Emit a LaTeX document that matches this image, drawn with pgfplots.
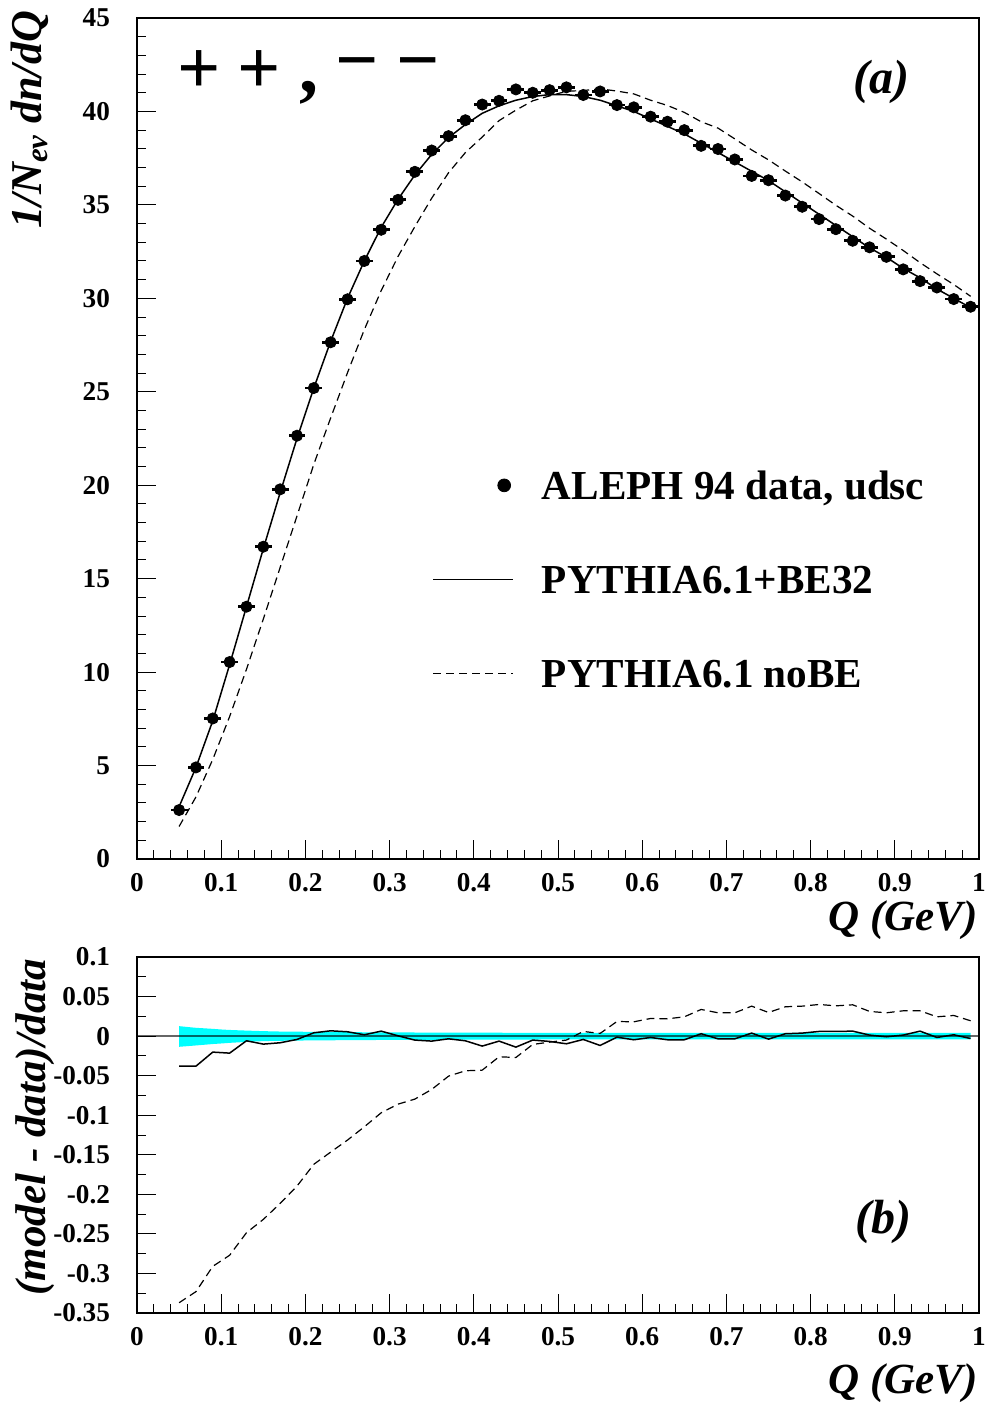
\documentclass[border=0pt]{standalone}
\usepackage{fontspec}
\setmainfont{Liberation Serif}
\usepackage{pgfplots}
\pgfplotsset{compat=1.18}
\usepackage{pgfplotstable}
\definecolor{bandcyan}{RGB}{0,255,255}

\pgfplotstableread{
q y
0.05 2.62
0.07 4.90
0.09 7.52
0.11 10.54
0.13 13.50
0.15 16.71
0.17 19.78
0.19 22.65
0.21 25.20
0.23 27.65
0.25 29.95
0.27 32.00
0.29 33.67
0.31 35.27
0.33 36.77
0.35 37.91
0.37 38.68
0.39 39.53
0.41 40.37
0.43 40.57
0.45 41.18
0.47 41.00
0.49 41.14
0.51 41.29
0.53 40.88
0.55 41.07
0.57 40.34
0.59 40.22
0.61 39.72
0.63 39.45
0.65 39.00
0.67 38.16
0.69 37.99
0.71 37.43
0.73 36.55
0.75 36.32
0.77 35.50
0.79 34.90
0.81 34.24
0.83 33.70
0.85 33.08
0.87 32.73
0.89 32.22
0.91 31.55
0.93 30.92
0.95 30.58
0.97 29.96
0.99 29.55
}\datatab

\pgfplotstableread{
q y
0.05 2.80
0.07 4.90
0.09 7.40
0.11 10.40
0.13 13.50
0.15 16.60
0.17 19.60
0.19 22.50
0.21 25.20
0.23 27.70
0.25 30.00
0.27 32.00
0.29 33.80
0.31 35.30
0.33 36.60
0.35 37.70
0.37 38.60
0.39 39.30
0.41 39.90
0.43 40.30
0.45 40.60
0.47 40.80
0.49 40.90
0.51 40.90
0.53 40.80
0.55 40.60
0.57 40.30
0.59 40.00
0.61 39.60
0.63 39.20
0.65 38.80
0.67 38.30
0.69 37.80
0.71 37.30
0.73 36.80
0.75 36.30
0.77 35.70
0.79 35.10
0.81 34.50
0.83 33.90
0.85 33.30
0.87 32.70
0.89 32.20
0.91 31.60
0.93 31.10
0.95 30.50
0.97 30.00
0.99 29.50
}\betab

\pgfplotstableread{
q y
0.05 1.74
0.07 3.32
0.09 5.33
0.11 7.62
0.13 10.15
0.15 12.84
0.17 15.60
0.19 18.35
0.21 21.12
0.23 23.60
0.25 26.02
0.27 28.33
0.29 30.41
0.31 32.24
0.33 33.84
0.35 35.36
0.37 36.72
0.39 37.80
0.41 38.63
0.43 39.51
0.45 40.07
0.47 40.57
0.49 40.83
0.51 41.08
0.53 41.12
0.55 41.21
0.57 41.09
0.59 40.94
0.61 40.60
0.63 40.32
0.65 39.95
0.67 39.45
0.69 39.11
0.71 38.53
0.73 37.94
0.75 37.41
0.77 36.81
0.79 36.23
0.81 35.61
0.83 34.98
0.85 34.40
0.87 33.75
0.89 33.17
0.91 32.56
0.93 31.91
0.95 31.31
0.97 30.74
0.99 30.11
}\nobetab

\pgfplotstableread{
q rs rd
0.05 -0.0379 -0.3370
0.07 -0.0380 -0.3230
0.09 -0.0202 -0.2910
0.11 -0.0215 -0.2770
0.13 -0.0059 -0.2485
0.15 -0.0101 -0.2317
0.17 -0.0084 -0.2115
0.19 -0.0042 -0.1896
0.21 0.0042 -0.1620
0.23 0.0067 -0.1466
0.25 0.0055 -0.1314
0.27 0.0017 -0.1146
0.29 0.0063 -0.0969
0.31 0.0004 -0.0860
0.33 -0.0050 -0.0796
0.35 -0.0063 -0.0674
0.37 -0.0034 -0.0506
0.39 -0.0059 -0.0438
0.41 -0.0126 -0.0430
0.43 -0.0063 -0.0261
0.45 -0.0139 -0.0270
0.47 -0.0050 -0.0105
0.49 -0.0067 -0.0076
0.51 -0.0097 -0.0050
0.53 -0.0042 0.0059
0.55 -0.0118 0.0034
0.57 -0.0013 0.0185
0.59 -0.0046 0.0181
0.61 -0.0017 0.0223
0.63 -0.0046 0.0219
0.65 -0.0046 0.0244
0.67 0.0030 0.0337
0.69 -0.0034 0.0295
0.71 -0.0034 0.0295
0.73 0.0038 0.0379
0.75 -0.0038 0.0299
0.77 0.0030 0.0371
0.79 0.0038 0.0379
0.81 0.0059 0.0400
0.83 0.0059 0.0383
0.85 0.0063 0.0396
0.87 0.0013 0.0312
0.89 -0.0008 0.0295
0.91 0.0013 0.0320
0.93 0.0063 0.0320
0.95 -0.0017 0.0244
0.97 0.0017 0.0261
0.99 -0.0030 0.0194
}\ratiotab

\pgfplotsset{
  rootstyle/.style={
    scale only axis, width=421pt, xmin=0, xmax=1,
    tick align=inside, tick pos=left,
    major tick length=9.5pt, minor tick length=4.5pt,
    tick style={black, line width=0.5pt},
    axis line style={line width=1pt},
    xtick={0,0.1,0.2,0.3,0.4,0.5,0.6,0.7,0.8,0.9,1},
    minor x tick num=4,
    tick label style={font=\fontsize{13.6}{15}\selectfont\bfseries},
    /pgf/number format/assume math mode=true,
    yticklabel style={xshift=-10pt},
    xticklabel style={yshift=-3.5pt},
  },
  lineleg/.style={legend image code/.code={\draw[##1] (0pt,0pt) -- (40pt,0pt);}},
  dotleg/.style={legend image code/.code={\draw[##1, mark size=3.2pt] plot coordinates {(35.5pt,0pt)};}},
}

\begin{document}
\begin{tikzpicture}
\begin{axis}[rootstyle, at={(68.5pt,-429.5pt)}, anchor=south west,
  height=420.5pt, ymin=0, ymax=45, ytick={0,5,10,15,20,25,30,35,40,45},
  minor y tick num=4,
  legend style={at={(0.3504,0.4614)}, anchor=north west, draw=none, fill=none,
    inner sep=0pt, font=\fontsize{20.6}{24}\selectfont\bfseries,
    row sep=33pt, cells={anchor=west},
    nodes={inner sep=0pt, text height=14pt, text depth=0pt},
    /tikz/every odd column/.append style={column sep=14pt}},
]
\addplot[only marks, mark=*, mark size=2.8pt, black, dotleg,
  error bars/.cd, x dir=both, x fixed=0.01, error mark=none,
  error bar style={line width=1.4pt},
  ] table[x=q,y=y] {\datatab};
\addlegendentry{ALEPH 94 data, udsc}
\addplot[black, line width=0.75pt, lineleg] table[x=q,y=y] {\betab};
\addlegendentry{PYTHIA6.1+BE32}
\addplot[black, line width=0.6pt, dash pattern=on 4pt off 2.5pt, lineleg] table[x=q,y=y] {\nobetab};
\addlegendentry{PYTHIA6.1 noBE}
\end{axis}

\begin{axis}[rootstyle, at={(68.5pt,-656.5pt)}, anchor=south west,
  height=178pt, ymin=-0.35, ymax=0.1,
  ytick={-0.35,-0.3,-0.25,-0.2,-0.15,-0.1,-0.05,0,0.05,0.1},
  minor y tick num=1,
  yticklabel style={/pgf/number format/.cd, fixed, precision=2},
]
\addplot[fill=bandcyan, draw=none] coordinates {
 (0.05,0.0126) (0.07,0.0105) (0.09,0.0092) (0.1,0.0084) (0.11,0.0078) (0.13,0.0070)
 (0.15,0.0063) (0.17,0.0058) (0.2,0.0055) (0.25,0.0050) (0.3,0.0047) (0.4,0.0043)
 (0.5,0.0042) (0.99,0.0042)
 (0.99,-0.0042) (0.5,-0.0042) (0.4,-0.0045) (0.3,-0.0048) (0.25,-0.0051) (0.2,-0.0055)
 (0.17,-0.0059) (0.15,-0.0063) (0.13,-0.0073) (0.11,-0.0085) (0.1,-0.0093) (0.09,-0.0100)
 (0.07,-0.0118) (0.05,-0.0135)
} -- cycle;
\addplot[black, opacity=0.6, line width=1.2pt] coordinates {(0,0) (1,0)};
\addplot[black, line width=0.75pt] table[x=q,y=rs] {\ratiotab};
\addplot[black, line width=0.6pt, dash pattern=on 4pt off 2.5pt] table[x=q,y=rd] {\ratiotab};
\end{axis}

\begin{scope}[x=0.5pt,y=-0.5pt]
\node[rotate=90, anchor=base, inner sep=0pt, font=\fontsize{22}{24}\selectfont\bfseries\itshape] at (41,120) {1/N\textsubscript{ev} dn/dQ};
\node[rotate=90, anchor=base, inner sep=0pt, font=\fontsize{21.5}{24}\selectfont\bfseries\itshape] at (46,1127) {(model - data)/data};
\node[anchor=base east, inner sep=0pt, font=\fontsize{21.5}{24}\selectfont\bfseries\itshape] at (978,930) {Q (GeV)};
\node[anchor=base east, inner sep=0pt, font=\fontsize{21.5}{24}\selectfont\bfseries\itshape] at (978,1393) {Q (GeV)};
\node[anchor=base west, inner sep=0pt, font=\fontsize{24}{28}\selectfont\bfseries\itshape] at (853,94) {(a)};
\node[anchor=base west, inner sep=0pt, font=\fontsize{24}{28}\selectfont\bfseries\itshape] at (855,1233) {(b)};
\node[inner sep=0pt, font=\fontsize{38}{44}\selectfont\bfseries] at (199,72) {+};
\node[inner sep=0pt, font=\fontsize{38}{44}\selectfont\bfseries] at (259,72) {+};
\node[inner sep=0pt, font=\fontsize{38}{44}\selectfont\bfseries] at (309,93) {,};
\node[inner sep=0pt, font=\fontsize{38}{44}\selectfont\bfseries] at (357,72) {−};
\node[inner sep=0pt, font=\fontsize{38}{44}\selectfont\bfseries] at (418,72) {−};
\end{scope}

\pgfresetboundingbox
\useasboundingbox (0pt,0pt) rectangle (494pt,-703.5pt);
\end{tikzpicture}
\end{document}
